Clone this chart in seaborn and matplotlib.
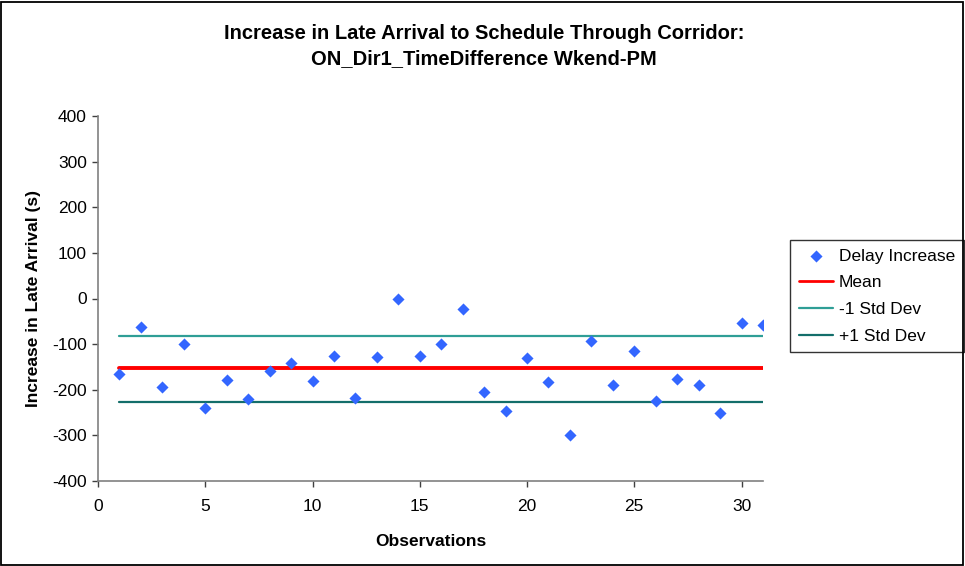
import numpy as np
import pandas as pd
import matplotlib
matplotlib.use("Agg")
import matplotlib.pyplot as plt
from matplotlib.patches import Rectangle
import seaborn as sns

observations = list(range(1, 32))
delay_increase = [-165, -62, -193, -100, -241, -179, -221, -159, -142, -181,
                  -126, -217, -128, -1, -126, -100, -24, -204, -247, -131,
                  -184, -300, -94, -190, -114, -224, -176, -190, -252, -54, -57]
mean_value = -153
std_upper_value = -83
std_lower_value = -227
legend_labels = ["Delay Increase", "Mean", "-1 Std Dev", "+1 Std Dev"]
x_ticks = [0, 5, 10, 15, 20, 25, 30]
y_ticks = [-400, -300, -200, -100, 0, 100, 200, 300, 400]

df = pd.DataFrame({
    "obs": observations,
    "delay": delay_increase,
    "mean": [mean_value] * len(observations),
    "upper": [std_upper_value] * len(observations),
    "lower": [std_lower_value] * len(observations),
})

sns.set_theme(style="white")
plt.rcParams["font.family"] = ["Liberation Sans", "DejaVu Sans"]
plt.rcParams["text.color"] = "black"
plt.rcParams["axes.labelcolor"] = "black"
plt.rcParams["xtick.color"] = "black"
plt.rcParams["ytick.color"] = "black"
plt.rcParams["axes.unicode_minus"] = False

W, H = 965, 566
fig = plt.figure(figsize=(W / 100, H / 100), dpi=100)
ax = fig.add_axes([98 / W, 1 - 481 / H, (763 - 98) / W, (481 - 116) / H])

sns.lineplot(data=df, x="obs", y="upper", ax=ax, color="#2f9e96", linewidth=1.6,
             label=legend_labels[2], zorder=2)
sns.lineplot(data=df, x="obs", y="lower", ax=ax, color="#136e6a", linewidth=1.6,
             label=legend_labels[3], zorder=2)
sns.lineplot(data=df, x="obs", y="mean", ax=ax, color="#ff0000", linewidth=2.8,
             label=legend_labels[1], zorder=3)
sns.scatterplot(data=df, x="obs", y="delay", ax=ax, marker="D", s=38,
                color="#3366ff", edgecolor="#3366ff", linewidth=0,
                label=legend_labels[0], zorder=4)

ax.set_xlim(0, 31)
ax.set_ylim(-400, 400)
ax.set_xticks(x_ticks)
ax.set_yticks(y_ticks)
ax.tick_params(axis="both", which="both", direction="out", length=4, width=1,
               color="#404040", labelsize=12.5, labelcolor="black",
               left=True, bottom=True)
ax.tick_params(axis="x", pad=9)
ax.tick_params(axis="y", pad=4)
for s in ["top", "right"]:
    ax.spines[s].set_visible(False)
for s in ["left", "bottom"]:
    ax.spines[s].set_color("#808080")
    ax.spines[s].set_linewidth(1.2)

ax.set_xlabel("Observations", fontsize=12.5, fontweight="bold", labelpad=14)
ax.set_ylabel("Increase in Late Arrival (s)", fontsize=12.5, fontweight="bold", labelpad=8)

fig.text(484 / W, 1 - 46 / H,
         "Increase in Late Arrival to Schedule Through Corridor:\nON_Dir1_TimeDifference Wkend-PM",
         ha="center", va="center", fontsize=14.5, fontweight="bold", linespacing=1.45)

handles, labels = ax.get_legend_handles_labels()
order = [labels.index(l) for l in legend_labels]
leg = ax.legend([handles[i] for i in order], [labels[i] for i in order],
                loc="upper left", bbox_to_anchor=(790 / W, 1 - 240 / H),
                bbox_transform=fig.transFigure, frameon=True, fancybox=False,
                fontsize=12.5, handlelength=2.0, handletextpad=0.3,
                borderpad=0.5, labelspacing=0.66, borderaxespad=0)
leg.get_frame().set_edgecolor("black")
leg.get_frame().set_linewidth(1.0)
for line in leg.get_lines():
    if line.get_label() == legend_labels[1] or True:
        line.set_linewidth(min(line.get_linewidth(), 2.0))

fig.patches.append(Rectangle((1 / W, 1 / H), (W - 3) / W, (H - 2.5) / H,
                             transform=fig.transFigure, fill=False,
                             edgecolor="black", linewidth=1.3))

fig.savefig("out.png", dpi=100)
